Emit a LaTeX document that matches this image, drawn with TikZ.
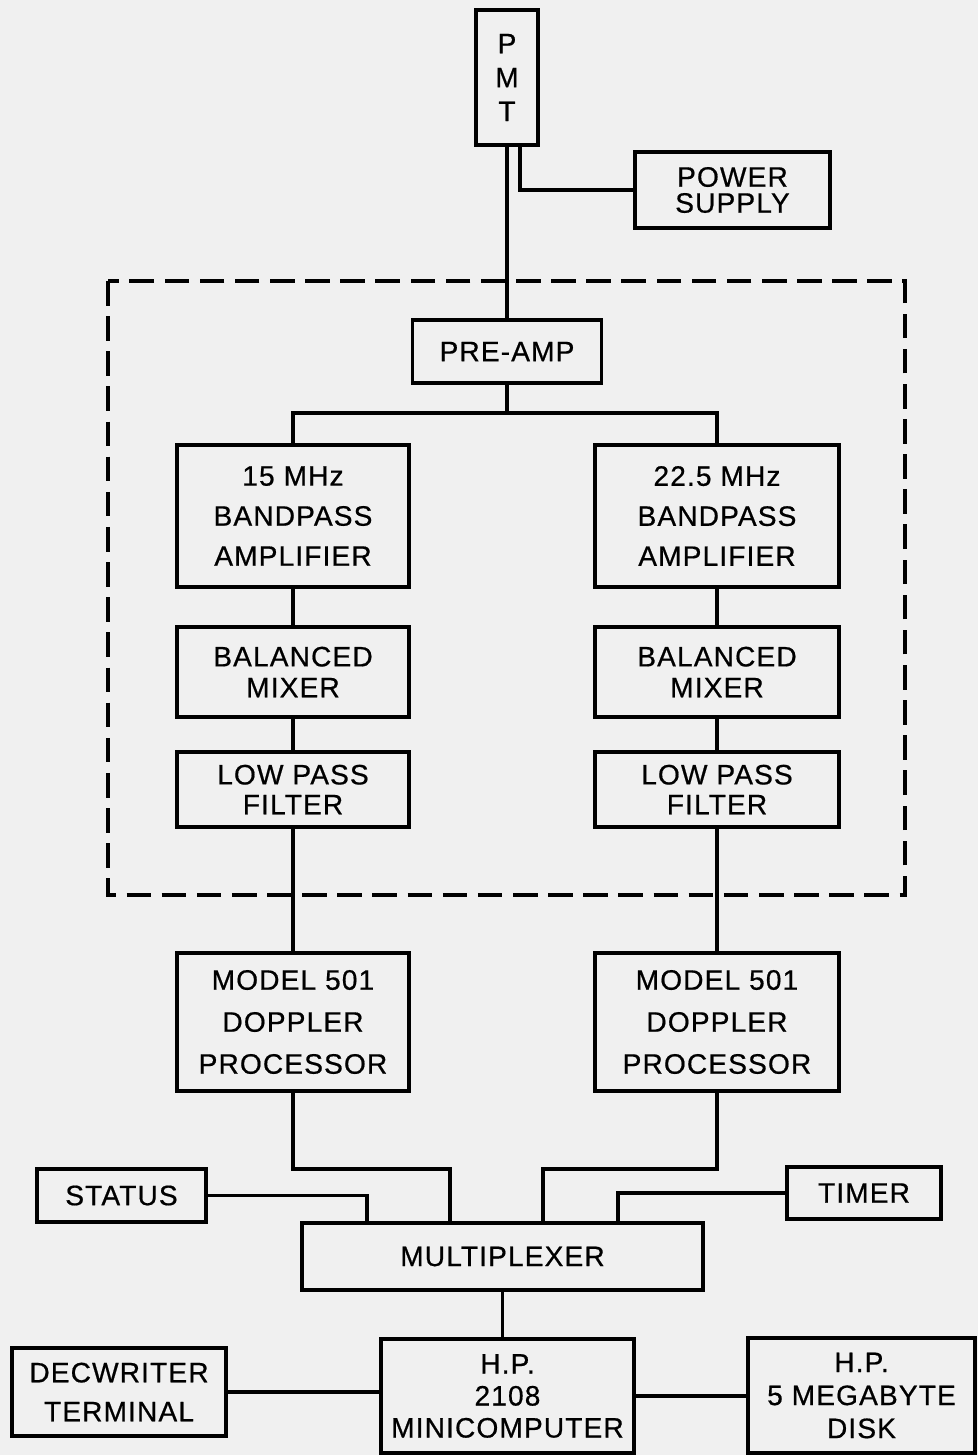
\documentclass[tikz,border=0pt]{standalone}
\usepackage{fontspec}
\setmainfont{Liberation Sans}[LetterSpace=4,FakeBold=0.6]
\usetikzlibrary{calc}

\newcommand{\lbl}[1]{\fontsize{16}{#1}\selectfont}
\tikzset{
  blk/.style 2 args={draw,line width=1.8pt,minimum width=#1*0.02cm,
    minimum height=#2*0.02cm,inner sep=0pt,align=center},
  wire/.style={line width=1.8pt},
  frame/.style={line width=1.8pt,dash pattern=on 14pt off 6pt}
}

\begin{document}
\begin{tikzpicture}[x=0.02cm,y=-0.02cm]
  \fill[black!6] (0,0) rectangle (978,1455);
  \useasboundingbox (0,0) rectangle (978,1455);

  % detector and supply
  \node[blk={62}{135},font=\lbl{19.3}] (pmt) at (507,77.5) {P\\M\\T};
  \node[blk={195}{76},font=\lbl{14.8}] (psu) at (732.5,190) {POWER\\SUPPLY};

  % signal conditioning unit
  \draw[frame] (108,281) rectangle (905,895);
  \node[blk={189}{63},font=\lbl{18}] (pre) at (507,351.5) {PRE-AMP};
  \node[blk={232}{142},font=\lbl{22.8}] (bpa1) at (293,516) {15 MHz\\BANDPASS\\AMPLIFIER};
  \node[blk={244}{142},font=\lbl{22.8}] (bpa2) at (717,516) {22.5 MHz\\BANDPASS\\AMPLIFIER};
  \node[blk={232}{90},font=\lbl{17.6}] (mix1) at (293,672) {BALANCED\\MIXER};
  \node[blk={244}{90},font=\lbl{17.6}] (mix2) at (717,672) {BALANCED\\MIXER};
  \node[blk={232}{75},font=\lbl{17}] (lpf1) at (293,789.5) {LOW PASS\\FILTER};
  \node[blk={244}{75},font=\lbl{17}] (lpf2) at (717,789.5) {LOW PASS\\FILTER};

  % processors
  \node[blk={232}{138},font=\lbl{23.9}] (dop1) at (293,1022) {MODEL 501\\DOPPLER\\PROCESSOR};
  \node[blk={244}{138},font=\lbl{23.9}] (dop2) at (717,1022) {MODEL 501\\DOPPLER\\PROCESSOR};

  % data acquisition
  \node[blk={169}{53},font=\lbl{18}] (status) at (121.5,1195.5) {STATUS};
  \node[blk={154}{52},font=\lbl{18}] (timer) at (864,1193) {TIMER};
  \node[blk={401}{67},font=\lbl{18}] (mux) at (502.5,1256.5) {MULTIPLEXER};
  \node[blk={214}{88},font=\lbl{22.2}] (dec) at (119,1392) {DECWRITER\\TERMINAL};
  \node[blk={253}{114},font=\lbl{18.2}] (hp) at (507.5,1396) {H.P.\\2108\\MINICOMPUTER};
  \node[blk={227}{115},font=\lbl{18.8}] (disk) at (861.5,1395.5) {H.P.\\5 MEGABYTE\\DISK};

  \coordinate (split) at (507,413);
  \coordinate (k0) at (367,1195);
  \coordinate (k1) at (450,1169);
  \coordinate (k2) at (543,1169);
  \coordinate (k3) at (618,1193);

  \draw[wire] (pmt.south) -- (pre.north);
  \draw[wire] ([xshift=0.26cm]pmt.south) |- (psu.west);
  \draw[wire] (pre.south) -- (split);
  \draw[wire] (bpa1.north) |- (split) -| (bpa2.north);
  \foreach \c in {1,2}
    \draw[wire] (bpa\c.south) -- (mix\c.north)
      (mix\c.south) -- (lpf\c.north)
      (lpf\c.south) -- (dop\c.north);

  \draw[wire] (status.east) -| (k0 |- mux.north);
  \draw[wire] (dop1.south) |- (k1) -- (k1 |- mux.north);
  \draw[wire] (dop2.south) |- (k2) -- (k2 |- mux.north);
  \draw[wire] (timer.west) -| (k3 |- mux.north);
  \draw[wire] (mux.south) -- (mux.south |- hp.north);
  \draw[wire] (dec.east) -- (dec.east -| hp.west);
  \draw[wire] (hp.east) -- (hp.east -| disk.west);
\end{tikzpicture}
\end{document}
